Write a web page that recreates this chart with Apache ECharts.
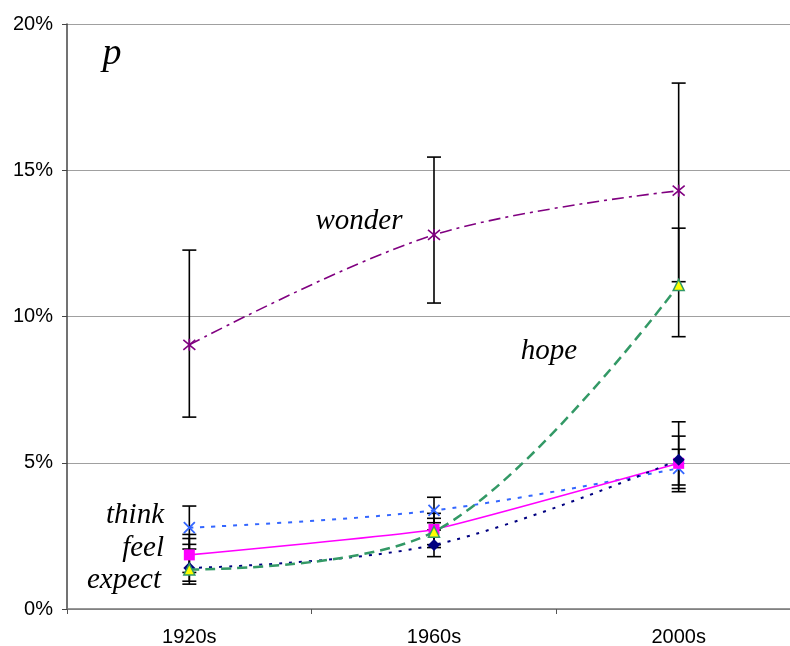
<!DOCTYPE html>
<html>
<head>
<meta charset="utf-8">
<script src="https://cdn.jsdelivr.net/npm/echarts@6/dist/echarts.min.js"></script>
<style>
html,body{margin:0;padding:0;background:#fff;}
#chart{width:790px;height:646px;}
</style>
</head>
<body>
<div id="chart"></div>
<script>
var categories = ['1920s', '1960s', '2000s'];
var yTicks = [0, 5, 10, 15, 20];

var wonder = [9.03, 12.79, 14.30];
var wonderLow = [6.56, 10.46, 11.19];
var wonderHigh = [12.27, 15.45, 17.98];

var hope = [1.35, 2.64, 11.08];
var hopeLow = [0.85, 2.10, 9.31];
var hopeHigh = [2.41, 3.10, 13.02];

var think = [2.78, 3.37, 4.81];
var thinkLow = [2.05, 2.95, 4.01];
var thinkHigh = [3.52, 3.82, 5.46];

var feel = [1.85, 2.72, 4.98];
var feelLow = [1.25, 2.20, 4.12];
var feelHigh = [2.55, 3.27, 5.91];

var expect = [1.40, 2.19, 5.10];
var expectLow = [0.95, 1.79, 4.24];
var expectHigh = [2.21, 2.70, 6.40];

var seriesLabels = ['wonder', 'hope', 'think', 'feel', 'expect'];

var chart = echarts.init(document.getElementById('chart'), null, {renderer: 'canvas'});

function errorData(low, high) {
  return low.map(function (l, i) { return [i, l, high[i]]; });
}

function errorSeries(name, low, high) {
  return {
    type: 'custom',
    name: name + ' error',
    z: 1,
    silent: true,
    data: errorData(low, high),
    renderItem: function (params, api) {
      var x = api.value(0);
      var lo = api.coord([x, api.value(1)]);
      var hi = api.coord([x, api.value(2)]);
      var hw = 7;
      var st = {stroke: '#000', lineWidth: 1.6};
      return {
        type: 'group',
        children: [
          {type: 'line', shape: {x1: lo[0], y1: lo[1], x2: hi[0], y2: hi[1]}, style: st},
          {type: 'line', shape: {x1: lo[0] - hw, y1: lo[1], x2: lo[0] + hw, y2: lo[1]}, style: st},
          {type: 'line', shape: {x1: hi[0] - hw, y1: hi[1], x2: hi[0] + hw, y2: hi[1]}, style: st}
        ]
      };
    }
  };
}

var serif = 'italic 29px "Liberation Serif", "DejaVu Serif", serif';
var sans = '"Liberation Sans", Arial, sans-serif';

var option = {
  animation: false,
  backgroundColor: '#fff',
  grid: {left: 67, top: 24, width: 734, height: 585, containLabel: false, outerBoundsMode: 'none'},
  xAxis: {
    type: 'category',
    data: categories,
    boundaryGap: true,
    axisLine: {show: true, lineStyle: {color: '#777', width: 1.5}},
    axisTick: {show: true, length: 5, lineStyle: {color: '#555', width: 1}},
    axisLabel: {color: '#000', fontSize: 20, fontFamily: sans, margin: 18},
    splitLine: {show: false}
  },
  yAxis: {
    type: 'value',
    min: yTicks[0],
    max: yTicks[yTicks.length - 1],
    interval: yTicks[1] - yTicks[0],
    axisLine: {show: true, lineStyle: {color: '#444', width: 1.5}},
    axisTick: {show: true, length: 5, lineStyle: {color: '#444', width: 1}},
    axisLabel: {color: '#000', fontSize: 20, fontFamily: sans, margin: 14, formatter: '{value}%'},
    splitLine: {show: true, lineStyle: {color: '#a0a0a0', width: 1}}
  },
  graphic: [
    {type: 'text', x: 112, y: 54, style: {text: 'p', font: 'italic 38px "Liberation Serif", serif', fill: '#000', textAlign: 'center', textVerticalAlign: 'middle'}},
    {type: 'text', x: 359, y: 221, style: {text: seriesLabels[0], font: serif, fill: '#000', textAlign: 'center', textVerticalAlign: 'middle'}},
    {type: 'text', x: 549, y: 351, style: {text: seriesLabels[1], font: serif, fill: '#000', textAlign: 'center', textVerticalAlign: 'middle'}},
    {type: 'text', x: 164, y: 515, style: {text: seriesLabels[2], font: serif, fill: '#000', textAlign: 'right', textVerticalAlign: 'middle'}},
    {type: 'text', x: 164, y: 548, style: {text: seriesLabels[3], font: serif, fill: '#000', textAlign: 'right', textVerticalAlign: 'middle'}},
    {type: 'text', x: 161, y: 580, style: {text: seriesLabels[4], font: serif, fill: '#000', textAlign: 'right', textVerticalAlign: 'middle'}}
  ],
  series: [
    errorSeries('wonder', wonderLow, wonderHigh),
    errorSeries('hope', hopeLow, hopeHigh),
    errorSeries('think', thinkLow, thinkHigh),
    errorSeries('feel', feelLow, feelHigh),
    errorSeries('expect', expectLow, expectHigh),
    {
      name: 'wonder', type: 'line', data: wonder, smooth: 0.35, z: 3,
      lineStyle: {color: '#800080', width: 1.6, type: [12, 5, 3, 5]},
      symbol: 'path://M0,0L10,10M10,0L0,10M5,-1L5,11', symbolSize: 12,
      itemStyle: {color: 'none', borderColor: '#800080', borderWidth: 1.6}
    },
    {
      name: 'think', type: 'line', data: think, smooth: 0.35, z: 3,
      lineStyle: {color: '#3366ff', width: 2, type: [4, 7]},
      symbol: 'path://M0,0L10,10M10,0L0,10', symbolSize: 11,
      itemStyle: {color: 'none', borderColor: '#3366ff', borderWidth: 1.8}
    },
    {
      name: 'feel', type: 'line', data: feel, smooth: 0.1, z: 3,
      lineStyle: {color: '#ff00ff', width: 1.6, type: 'solid'},
      symbol: 'rect', symbolSize: 11,
      itemStyle: {color: '#ff00ff', borderColor: '#ff00ff', borderWidth: 0}
    },
    {
      name: 'expect', type: 'line', data: expect, smooth: 0.35, z: 3,
      lineStyle: {color: '#000080', width: 2, type: [3, 7]},
      symbol: 'diamond', symbolSize: 12,
      itemStyle: {color: '#000080', borderColor: '#000080', borderWidth: 0}
    },
    {
      name: 'hope', type: 'line', data: hope, smooth: 0.35, z: 4,
      lineStyle: {color: '#339966', width: 2.5, type: [10, 6]},
      symbol: 'triangle', symbolSize: 11,
      itemStyle: {color: '#ffff00', borderColor: '#339966', borderWidth: 1.5}
    }
  ]
};
chart.setOption(option);
</script>
</body>
</html>
